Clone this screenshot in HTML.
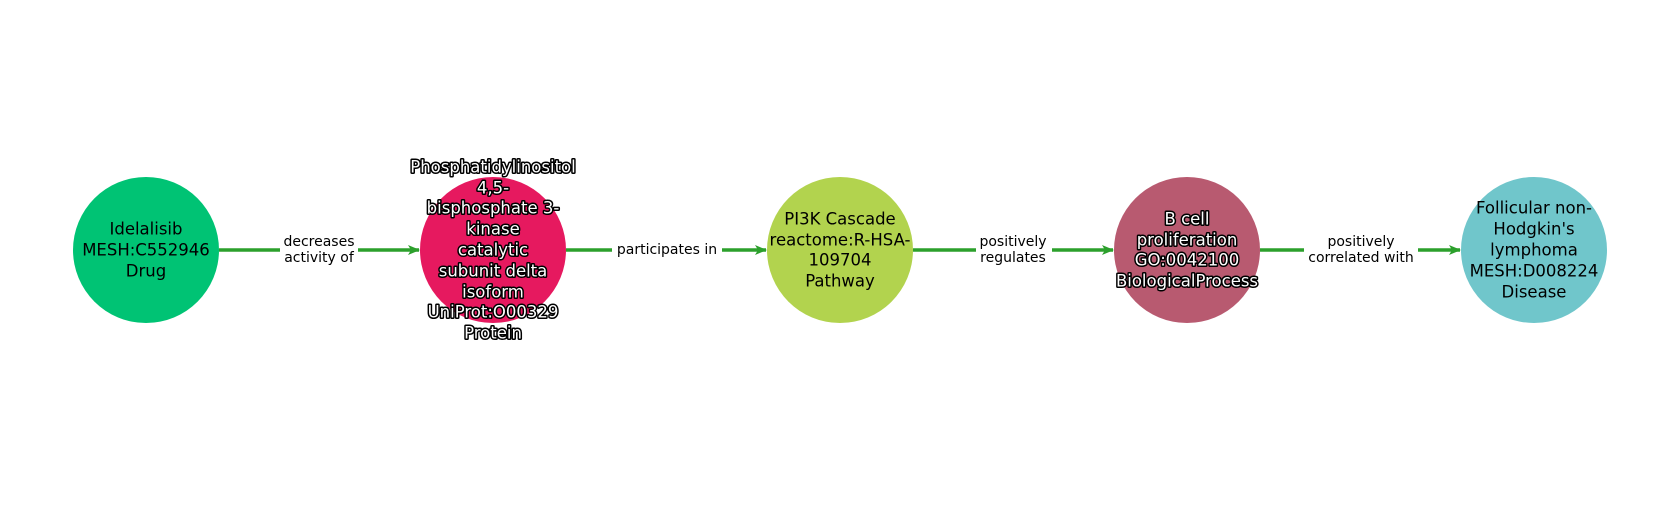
<!DOCTYPE html>
<html><head><meta charset="utf-8"><style>
html,body{margin:0;padding:0;background:#fff;}
svg text{font-family:"DejaVu Sans","Liberation Sans",sans-serif;}
.n{font-size:16.5px;fill:#000;text-anchor:middle;dominant-baseline:central;}
.o{fill:#fff;stroke:#000;stroke-width:3px;paint-order:stroke;stroke-linejoin:round;}
.e{font-size:14px;fill:#000;text-anchor:middle;dominant-baseline:central;}
</style></head><body>
<svg width="1680" height="500" viewBox="0 0 1680 500" xmlns="http://www.w3.org/2000/svg">
<defs><marker id="a" markerWidth="12" markerHeight="12" refX="11" refY="6" orient="auto" markerUnits="userSpaceOnUse"><path d="M0,1 L12,6 L0,11 L3,6 Z" fill="#2ca02c"/></marker></defs>
<g stroke="#2ca02c" stroke-width="3.5" marker-end="url(#a)">
<line x1="219" y1="250" x2="419" y2="250"/>
<line x1="566" y1="250" x2="766" y2="250"/>
<line x1="913" y1="250" x2="1113" y2="250"/>
<line x1="1260" y1="250" x2="1460" y2="250"/>
</g>
<g fill="#fff">
<rect x="280" y="232" width="78" height="36"/>
<rect x="612" y="240" width="110" height="20"/>
<rect x="976" y="232" width="76" height="36"/>
<rect x="1304" y="232" width="114" height="36"/>
</g>
<text class="e" x="319" y="242">decreases</text><text class="e" x="319" y="258">activity of</text>
<text class="e" x="667" y="250">participates in</text>
<text class="e" x="1013" y="242">positively</text><text class="e" x="1013" y="258">regulates</text>
<text class="e" x="1361" y="242">positively</text><text class="e" x="1361" y="258">correlated with</text>
<circle cx="146" cy="250" r="73" fill="#00c374"/>
<circle cx="493" cy="250" r="73" fill="#e6195f"/>
<circle cx="840" cy="250" r="73" fill="#b2d34e"/>
<circle cx="1187" cy="250" r="73" fill="#b85a70"/>
<circle cx="1534" cy="250" r="73" fill="#70c6cb"/>
<text class="n" x="146" y="229">Idelalisib</text>
<text class="n" x="146" y="250">MESH:C552946</text>
<text class="n" x="146" y="271">Drug</text>
<text class="n o" x="493" y="167">Phosphatidylinositol</text>
<text class="n o" x="493" y="188">4,5-</text>
<text class="n o" x="493" y="208">bisphosphate 3-</text>
<text class="n o" x="493" y="229">kinase</text>
<text class="n o" x="493" y="250">catalytic</text>
<text class="n o" x="493" y="271">subunit delta</text>
<text class="n o" x="493" y="292">isoform</text>
<text class="n o" x="493" y="312">UniProt:O00329</text>
<text class="n o" x="493" y="333">Protein</text>
<text class="n" x="840" y="219">PI3K Cascade</text>
<text class="n" x="840" y="240">reactome:R-HSA-</text>
<text class="n" x="840" y="260">109704</text>
<text class="n" x="840" y="281">Pathway</text>
<text class="n o" x="1187" y="219">B cell</text>
<text class="n o" x="1187" y="240">proliferation</text>
<text class="n o" x="1187" y="260">GO:0042100</text>
<text class="n o" x="1187" y="281">BiologicalProcess</text>
<text class="n" x="1534" y="208">Follicular non-</text>
<text class="n" x="1534" y="229">Hodgkin's</text>
<text class="n" x="1534" y="250">lymphoma</text>
<text class="n" x="1534" y="271">MESH:D008224</text>
<text class="n" x="1534" y="292">Disease</text>
</svg>
</body></html>
